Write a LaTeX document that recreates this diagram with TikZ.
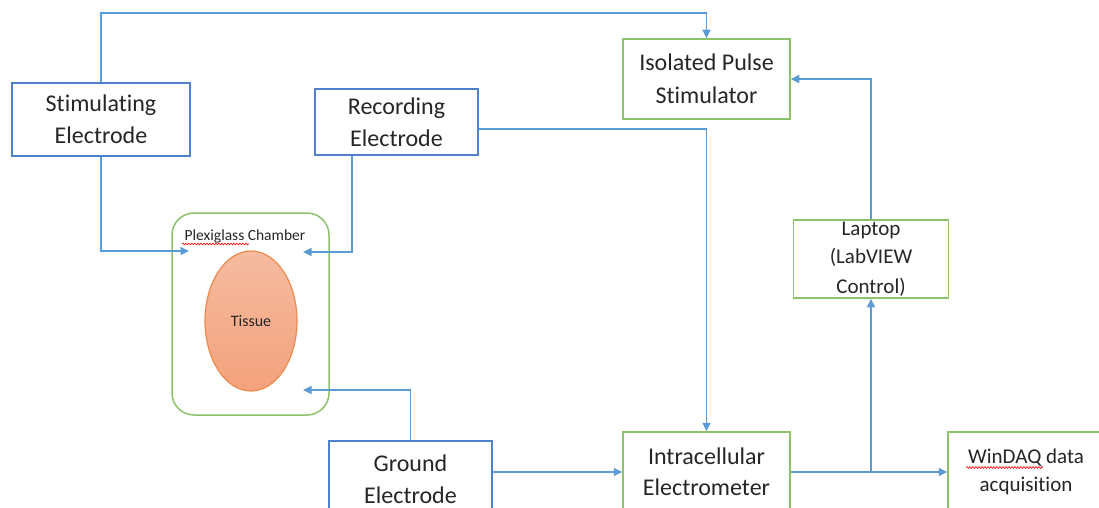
\documentclass[tikz,border=0pt]{standalone}
\usepackage{fontspec}
\setmainfont[Ligatures=NoCommon]{Carlito}
\usetikzlibrary{arrows.meta,decorations.pathmorphing,shapes.geometric}
\definecolor{bbox}{HTML}{5082CC}
\definecolor{gbox}{HTML}{8CC36A}
\definecolor{conn}{HTML}{5B9BD5}
\definecolor{txt}{HTML}{262626}
\definecolor{tisA}{HTML}{F5BBA0}
\definecolor{tisB}{HTML}{F4A27C}
\definecolor{tisE}{HTML}{ED8B4E}
\tikzset{
  boxbase/.style={draw, line width=1.5pt, fill=white, align=center, text=txt, inner sep=0pt},
  bluebox/.style={boxbase, draw=bbox, font=\fontsize{24}{32}\selectfont},
  greenbox/.style={boxbase, draw=gbox, font=\fontsize{24}{33}\selectfont},
  smallgreen/.style={boxbase, draw=gbox, font=\fontsize{21}{28.5}\selectfont},
  arr/.style={draw=conn, line width=1.6pt, -{Triangle[length=8.5pt,width=8pt]}},
  squig/.style={draw=red, line width=0.6pt, decorate, decoration={snake, amplitude=0.9pt, segment length=3pt}}
}
\begin{document}
\begin{tikzpicture}[x=1pt,y=-1pt]
\useasboundingbox (0,0) rectangle (1099,508);
\clip (0,0) rectangle (1099,508);
\fill[white] (0,0) rectangle (1099,508);
% chamber and tissue
\node[draw=gbox, line width=1.5pt, rounded corners=22pt, minimum width=157pt, minimum height=202pt, inner sep=0pt] (chamber) at (250.5,314) {};
\node[ellipse, draw=tisE, line width=1.2pt, top color=tisA, bottom color=tisB, minimum width=92pt, minimum height=140pt, inner sep=0pt, text=txt, font=\fontsize{16}{19}\selectfont] (tissue) at (251,321) {Tissue};
\node[text=txt, font=\fontsize{15.5}{18}\selectfont, inner sep=0pt] (plexi) at (245,236) {Plexiglass Chamber};
\coordinate (sqA) at (182,244);
\coordinate (sqB) at (249,244);
\draw[squig] (sqA) -- (sqB);
% boxes
\node[bluebox, minimum width=178pt, minimum height=73pt] (stim) at (101,119.5) {Stimulating\\Electrode};
\node[bluebox, minimum width=163pt, minimum height=66pt] (rec) at (396.5,122) {Recording\\Electrode};
\node[bluebox, minimum width=163pt, minimum height=76pt] (ground) at (410.5,479) {Ground\\Electrode};
\node[greenbox, minimum width=167pt, minimum height=80pt] (iso) at (706.5,79) {Isolated Pulse\\Stimulator};
\node[smallgreen, minimum width=155pt, minimum height=78pt] (lap) at (871,259) {\raisebox{-2pt}{Laptop}\\\raisebox{-2pt}{(LabVIEW}\\\raisebox{-3pt}{Control)}};
\node[greenbox, minimum width=167pt, minimum height=80pt, font=\fontsize{24}{31}\selectfont] (intra) at (706.5,472) {Intracellular\\Electrometer};
\node[smallgreen, minimum width=156pt, minimum height=80pt, font=\fontsize{21}{28.5}\selectfont] (windaq) at (1026,472) {WinDAQ data\\acquisition};
\coordinate (sqC) at (966,467.5);
\coordinate (sqD) at (1043,467.5);
\draw[squig] (sqC) -- (sqD);
% connector anchor points
\coordinate (top) at (0,13);
\coordinate (ch1) at (189,251);
\coordinate (ch2) at (303,252);
\coordinate (ch3) at (303,390);
% connectors
\draw[arr] (stim.north) -- (stim.north |- top) -| (iso.north);
\draw[arr] (stim.south) |- (ch1);
\draw[arr] ([xshift=-44.5pt]rec.south) |- (ch2);
\draw[arr] ([yshift=-7pt]rec.east) -| (intra.north);
\draw[arr] (ground.north) |- (ch3);
\draw[arr] (ground.east |- intra.west) -- (intra.west);
\draw[arr] (intra.east) -- (windaq.west);
\draw[arr] (lap.south |- intra.east) -- (lap.south);
\draw[arr] (lap.north) |- (iso.east);
\end{tikzpicture}
\end{document}
